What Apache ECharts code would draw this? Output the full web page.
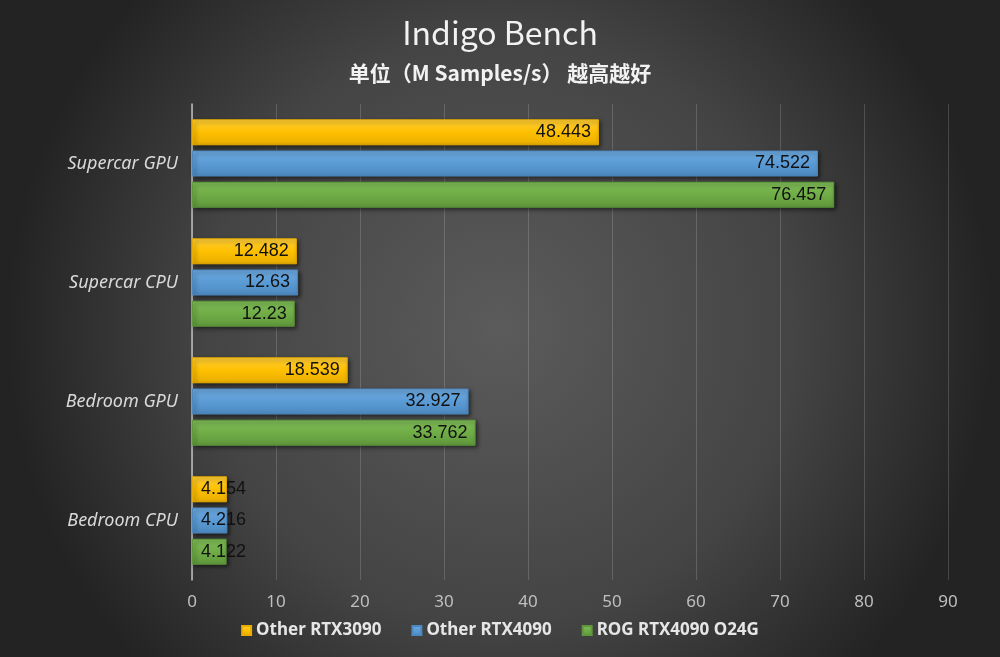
<!DOCTYPE html>
<html>
<head>
<meta charset="utf-8">
<script src="https://cdn.jsdelivr.net/npm/echarts@6/dist/echarts.min.js"></script>
<style>
    html, body { margin: 0; padding: 0; }
    #main { width: 1000px; height: 657px; }
</style>
</head>
<body>
<div id="main"></div>
<script>
// 测试项目（自下而上）
var categories = ['Bedroom CPU', 'Bedroom GPU', 'Supercar CPU', 'Supercar GPU'];
var seriesNames = ['Other RTX3090', 'Other RTX4090', 'ROG RTX4090 O24G'];
var rtx3090 = [4.154, 18.539, 12.482, 48.443];
var rtx4090 = [4.216, 32.927, 12.63, 74.522];
var rog4090 = [4.122, 33.762, 12.23, 76.457];
var xTicks = [0, 10, 20, 30, 40, 50, 60, 70, 80, 90];

var colors = [
    ['#ffcf3a', '#ffc000', '#e8ad00'],
    ['#6eaae0', '#5b9bd5', '#4c88bf'],
    ['#80bd58', '#70ad47', '#5f973b']
];

function barColor(c) {
    return new echarts.graphic.LinearGradient(0, 0, 0, 1, [
        { offset: 0, color: c[0] },
        { offset: 0.5, color: c[1] },
        { offset: 1, color: c[2] }
    ]);
}

// 太短的条，数值标签放在左侧
function makeData(values) {
    return values.map(function (v) {
        if (v < 8) {
            return { value: v, label: { position: 'insideLeft', distance: 9 } };
        }
        return v;
    });
}

function makeSeries(name, values, c) {
    return {
        name: name,
        type: 'bar',
        data: makeData(values),
        barWidth: 26,
        barGap: '20%',
        itemStyle: {
            color: barColor(c),
            borderColor: c[2],
            borderWidth: 1,
            shadowColor: 'rgba(0,0,0,0.55)',
            shadowBlur: 4,
            shadowOffsetX: 2,
            shadowOffsetY: 2
        },
        label: {
            show: true,
            position: 'insideRight',
            distance: 8,
            color: '#111',
            fontSize: 18,
            fontFamily: 'Liberation Sans',
            formatter: function (p) { return p.value; }
        }
    };
}

var myChart = echarts.init(document.getElementById('main'));
var option = {
    backgroundColor: new echarts.graphic.RadialGradient(0.5, 0.5, 0.75, [
        { offset: 0, color: '#5b5b5b' },
        { offset: 0.6, color: '#444444' },
        { offset: 1, color: '#232323' }
    ]),
    title: {
        text: 'Indigo Bench',
        subtext: '单位（M Samples/s） 越高越好',
        left: 'center',
        top: 12,
        itemGap: 14,
        textStyle: {
            color: '#f2f2f2',
            fontSize: 32,
            fontWeight: 'normal',
            fontFamily: 'Noto Sans CJK SC'
        },
        subtextStyle: {
            color: '#f2f2f2',
            fontSize: 21,
            fontWeight: 'bold',
            fontFamily: 'Noto Sans CJK SC'
        }
    },
    legend: {
        data: seriesNames,
        bottom: 13,
        left: 'center',
        itemWidth: 9,
        itemHeight: 9,
        itemGap: 30,
        icon: 'rect',
        textStyle: {
            color: '#e6e6e6',
            fontSize: 17,
            fontWeight: 'bold',
            fontFamily: 'Noto Sans'
        }
    },
    grid: {
        left: 192,
        right: 52,
        top: 104,
        bottom: 77
    },
    xAxis: {
        type: 'value',
        min: xTicks[0],
        max: xTicks[xTicks.length - 1],
        interval: 10,
        axisLine: { show: false },
        axisTick: { show: false },
        axisLabel: {
            color: '#bfbfbf',
            fontSize: 17,
            margin: 14,
            fontFamily: 'Noto Sans'
        },
        splitLine: {
            lineStyle: { color: 'rgba(255,255,255,0.16)', width: 1 }
        }
    },
    yAxis: {
        type: 'category',
        data: categories,
        axisLine: { lineStyle: { color: '#bfbfbf', width: 1.5 } },
        axisTick: { show: false },
        axisLabel: {
            color: '#d9d9d9',
            fontSize: 18,
            fontStyle: 'italic',
            margin: 14,
            fontFamily: 'Noto Sans'
        }
    },
    series: [
        makeSeries(seriesNames[0], rtx3090, colors[0]),
        makeSeries(seriesNames[1], rtx4090, colors[1]),
        makeSeries(seriesNames[2], rog4090, colors[2])
    ]
};
myChart.setOption(option);
</script>
</body>
</html>
